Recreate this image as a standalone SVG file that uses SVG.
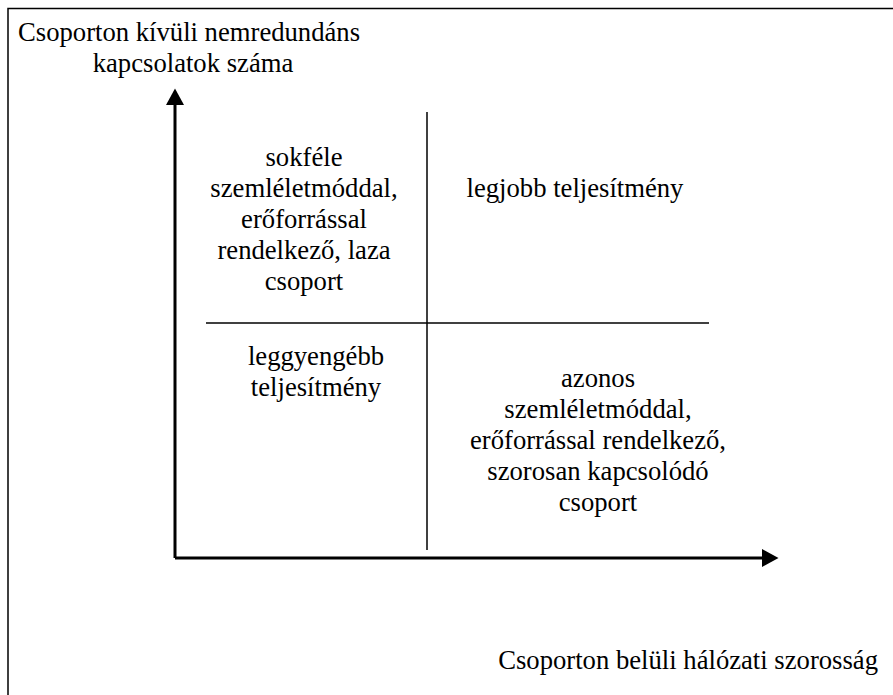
<svg xmlns="http://www.w3.org/2000/svg" width="893" height="695" viewBox="0 0 893 695">
<style>
text{font-family:"Liberation Serif","Times New Roman",serif;font-size:26.67px;fill:#000}
.c{text-anchor:middle}
.axis{stroke:#000;stroke-width:3;fill:none}
.div{stroke:#000;stroke-width:1.5;fill:none}
</style>
<defs>
<marker id="ah" markerWidth="6" markerHeight="6" refX="0" refY="3" orient="auto" markerUnits="strokeWidth">
<path d="M0,0 L5.5,3 L0,6 Z" fill="#000"/>
</marker>
</defs>
<rect x="8" y="8.5" width="900" height="700" fill="#fff" stroke="#000" stroke-width="1.5"/>
<g id="connectors">
<path class="axis" d="M175,558 L175,105" marker-end="url(#ah)"/>
<path class="axis" d="M175,558 L762,558" marker-end="url(#ah)"/>
<path class="div" d="M427,112 L427,550"/>
<path class="div" d="M206,323 L709,323"/>
</g>
<g id="y-label">
<text x="18" y="41">Csoporton kívüli nemredundáns</text>
<text class="c" x="193" y="72">kapcsolatok száma</text>
</g>
<g id="x-label">
<text x="878" y="669" text-anchor="end">Csoporton belüli hálózati szorosság</text>
</g>
<g id="top-left">
<text class="c" x="304" y="166">sokféle</text>
<text class="c" x="304" y="197">szemléletmóddal,</text>
<text class="c" x="304" y="228">erőforrással</text>
<text class="c" x="304" y="259">rendelkező, laza</text>
<text class="c" x="304" y="290">csoport</text>
</g>
<g id="top-right">
<text class="c" x="575" y="197">legjobb teljesítmény</text>
</g>
<g id="bottom-left">
<text class="c" x="316" y="365">leggyengébb</text>
<text class="c" x="316" y="396">teljesítmény</text>
</g>
<g id="bottom-right">
<text class="c" x="598" y="387">azonos</text>
<text class="c" x="598" y="418">szemléletmóddal,</text>
<text class="c" x="598" y="449">erőforrással rendelkező,</text>
<text class="c" x="598" y="480">szorosan kapcsolódó</text>
<text class="c" x="598" y="511">csoport</text>
</g>
</svg>
